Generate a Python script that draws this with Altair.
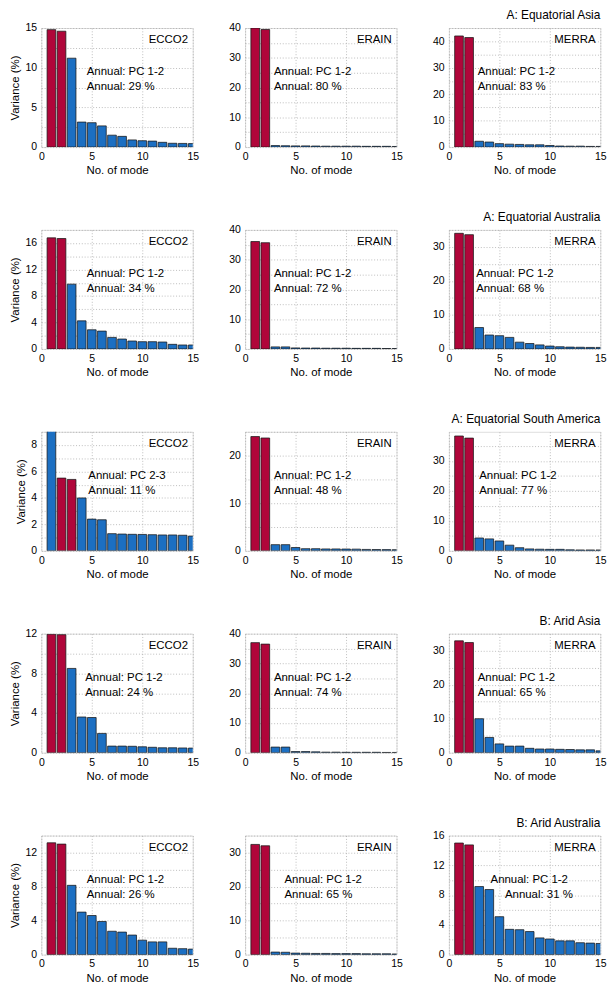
import altair as alt
import pandas as pd

# ---------------- data ----------------
modes = list(range(1, 16))
datasets = ["ECCO2", "ERAIN", "MERRA"]
regions = ["A: Equatorial Asia", "A: Equatorial Australia", "A: Equatorial South America",
           "B: Arid Asia", "B: Arid Australia"]

ecco_1 = [14.8, 14.6, 11.2, 3.15, 3.07, 2.67, 1.5, 1.35, 0.9, 0.8, 0.75, 0.6, 0.48, 0.46, 0.44]
erain_1 = [40.0, 39.5, 0.5, 0.45, 0.4, 0.4, 0.35, 0.3, 0.3, 0.3, 0.3, 0.25, 0.25, 0.25, 0.2]
merra_1 = [42.0, 41.4, 2.2, 1.9, 1.3, 1.1, 1.0, 0.85, 0.85, 0.6, 0.4, 0.35, 0.35, 0.25, 0.25]

ecco_2 = [16.8, 16.7, 9.8, 4.25, 2.9, 2.7, 1.75, 1.5, 1.2, 1.1, 1.1, 1.05, 0.7, 0.6, 0.6]
erain_2 = [36.1, 35.7, 0.7, 0.7, 0.35, 0.3, 0.3, 0.25, 0.25, 0.25, 0.2, 0.2, 0.2, 0.15, 0.15]
merra_2 = [34.0, 33.6, 6.3, 4.1, 3.9, 3.4, 2.0, 1.6, 1.2, 0.85, 0.65, 0.55, 0.5, 0.45, 0.45]

ecco_3 = [9.6, 5.5, 5.4, 4.0, 2.4, 2.35, 1.3, 1.27, 1.25, 1.24, 1.22, 1.2, 1.2, 1.18, 1.12]
erain_3 = [24.0, 23.7, 1.3, 1.3, 0.7, 0.45, 0.45, 0.4, 0.4, 0.38, 0.36, 0.3, 0.28, 0.26, 0.25]
merra_3 = [38.4, 37.7, 4.3, 4.0, 3.3, 1.9, 1.05, 0.65, 0.55, 0.5, 0.5, 0.35, 0.3, 0.3, 0.3]

ecco_4 = [11.95, 11.9, 8.5, 3.6, 3.55, 1.95, 0.67, 0.67, 0.65, 0.6, 0.55, 0.5, 0.5, 0.48, 0.47]
erain_4 = [37.0, 36.5, 1.9, 1.9, 0.4, 0.4, 0.3, 0.2, 0.2, 0.15, 0.15, 0.15, 0.15, 0.1, 0.1]
merra_4 = [32.9, 32.4, 10.0, 4.5, 2.6, 1.95, 1.95, 1.3, 1.1, 1.1, 1.0, 0.95, 0.85, 0.85, 0.55]

ecco_5 = [13.15, 13.0, 8.15, 5.0, 4.6, 3.9, 2.75, 2.65, 2.3, 1.7, 1.5, 1.5, 0.75, 0.7, 0.65]
erain_5 = [32.4, 32.0, 0.75, 0.7, 0.45, 0.4, 0.35, 0.35, 0.3, 0.3, 0.3, 0.25, 0.25, 0.25, 0.2]
merra_5 = [15.0, 14.75, 9.15, 8.75, 5.1, 3.4, 3.35, 3.1, 2.25, 2.1, 1.85, 1.85, 1.6, 1.55, 1.5]

series = [[ecco_1, erain_1, merra_1],
          [ecco_2, erain_2, merra_2],
          [ecco_3, erain_3, merra_3],
          [ecco_4, erain_4, merra_4],
          [ecco_5, erain_5, merra_5]]

pc_labels = [["PC 1-2", "PC 1-2", "PC 1-2"],
             ["PC 1-2", "PC 1-2", "PC 1-2"],
             ["PC 2-3", "PC 1-2", "PC 1-2"],
             ["PC 1-2", "PC 1-2", "PC 1-2"],
             ["PC 1-2", "PC 1-2", "PC 1-2"]]
pc_modes = [[[1, 2], [1, 2], [1, 2]],
            [[1, 2], [1, 2], [1, 2]],
            [[2, 3], [1, 2], [1, 2]],
            [[1, 2], [1, 2], [1, 2]],
            [[1, 2], [1, 2], [1, 2]]]
percents = [[29, 80, 83], [34, 72, 68], [11, 48, 77], [24, 74, 65], [26, 65, 31]]

# y-axis limits and label step
y_max = [[15, 40, 45], [18, 40, 35], [9, 25, 39.8], [12, 40, 35], [14, 35, 16]]
y_major = [[5, 10, 10], [4, 10, 10], [2, 10, 10], [4, 10, 10], [4, 10, 4]]

# ---------------- style / layout ----------------
W, H = 159, 125
RED = "#B0063A"
BLUE = "#1C6FC2"
FONT = "Liberation Sans"
# annotation left position (fraction of panel width) per panel: (line1, line2)
text_x = [[(0.30, 0.30), (0.19, 0.19), (0.19, 0.19)],
          [(0.30, 0.30), (0.19, 0.19), (0.18, 0.18)],
          [(0.31, 0.31), (0.19, 0.19), (0.20, 0.20)],
          [(0.29, 0.29), (0.19, 0.19), (0.19, 0.19)],
          [(0.30, 0.30), (0.26, 0.26), (0.275, 0.37)]]


def label(text, x, y, align="left", baseline="middle", size=12):
    return alt.Chart(pd.DataFrame({"t": [text]})).mark_text(
        align=align, baseline=baseline, font=FONT, fontSize=size, color="#000"
    ).encode(x=alt.value(x), y=alt.value(y), text="t:N")


def panel(r, c):
    vals = series[r][c]
    reds = pc_modes[r][c]
    df = pd.DataFrame({"mode": modes, "value": vals})
    df["lo"] = df["mode"] - 0.43
    df["hi"] = df["mode"] + 0.43
    df["base"] = 0.0
    df["grp"] = ["pc" if m in reds else "other" for m in modes]

    ymax = y_max[r][c]
    major = y_major[r][c]
    minor = major / 2
    yvals = []
    v = 0.0
    while v <= ymax + 1e-9:
        yvals.append(round(v, 4))
        v += minor
    label_expr = f"abs(datum.value/{major} - round(datum.value/{major})) < 0.001 ? datum.label : ''"

    yaxis_kw = dict(values=yvals, labelExpr=label_expr, grid=True, gridDash=[1, 2],
                    gridColor="#9a9a9a", gridWidth=0.7, ticks=False, domain=False,
                    labelFont=FONT, labelFontSize=11, labelColor="#000", labelPadding=5)
    if c == 0:
        yaxis_kw.update(title="Variance (%)", titleFont=FONT, titleFontSize=12,
                        titleFontWeight="normal", titleColor="#000", titlePadding=4)
    else:
        yaxis_kw.update(title=None)
    yaxis = alt.Axis(**yaxis_kw)
    xaxis = alt.Axis(values=[0, 5, 10, 15], grid=True, gridDash=[1, 2], gridColor="#9a9a9a",
                     gridWidth=0.7, ticks=False, domain=False, labelFont=FONT,
                     labelFontSize=11, labelColor="#000", labelPadding=4,
                     title="No. of mode", titleFont=FONT, titleFontSize=12,
                     titleFontWeight="normal", titleColor="#000", titlePadding=4,
                     labelFlush=False)

    bars = alt.Chart(df).mark_rect(stroke="#1a1a1a", strokeWidth=0.8, clip=True).encode(
        x=alt.X("lo:Q", scale=alt.Scale(domain=[0, 15], nice=False, zero=False), axis=xaxis),
        x2="hi:Q",
        y=alt.Y("value:Q", scale=alt.Scale(domain=[0, ymax], nice=False), axis=yaxis),
        y2="base:Q",
        color=alt.Color("grp:N", scale=alt.Scale(domain=["pc", "other"], range=[RED, BLUE]),
                        legend=None),
    )

    fx1, fx2 = text_x[r][c]
    layers = [bars,
              label(datasets[c], W - 5, 12, align="right"),
              label(f"Annual: {pc_labels[r][c]}", fx1 * W, 0.365 * H),
              label(f"Annual: {percents[r][c]} %", fx2 * W, 0.49 * H)]
    if c == 2:
        layers.append(label(regions[r], W, -9, align="right", baseline="alphabetic", size=12.5))
    return alt.layer(*layers).properties(width=W, height=H)


panels = [panel(r, c) for r in range(5) for c in range(3)]

chart = alt.concat(*panels, columns=3, spacing={"row": 36, "column": 30}).properties(
    padding={"left": 0, "top": -24, "right": 0, "bottom": 0}
).configure_view(stroke="#000", strokeWidth=1).configure(background="white")

chart.save("out.html", embed_options={"renderer": "svg", "actions": False})
